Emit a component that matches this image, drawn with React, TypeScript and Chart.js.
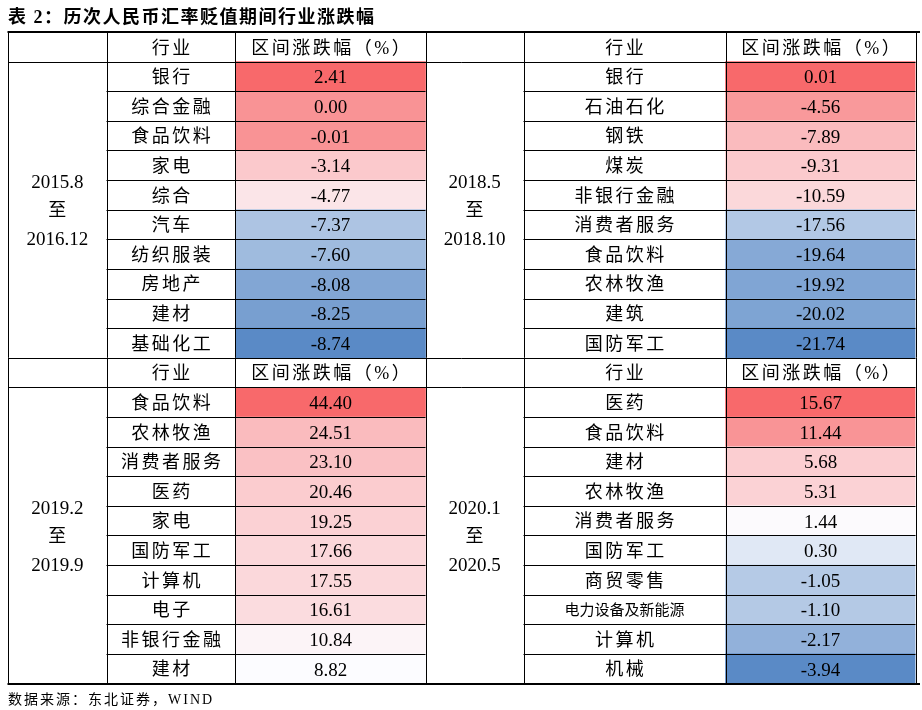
import React, { useEffect, useRef } from "react";
import { Chart, registerables } from "chart.js";

Chart.register(...registerables);

// ---------- data ----------
const titleText = "表 2：历次人民币汇率贬值期间行业涨跌幅";
const sourceText = "数据来源：东北证券，WIND";
const headerIndustry = "行业";
const headerChange = "区间涨跌幅（%）";

const periodA = ["2015.8", "至", "2016.12"];
const industriesA = ["银行", "综合金融", "食品饮料", "家电", "综合", "汽车", "纺织服装", "房地产", "建材", "基础化工"];
const valuesA = [2.41, 0.0, -0.01, -3.14, -4.77, -7.37, -7.6, -8.08, -8.25, -8.74];

const periodB = ["2018.5", "至", "2018.10"];
const industriesB = ["银行", "石油石化", "钢铁", "煤炭", "非银行金融", "消费者服务", "食品饮料", "农林牧渔", "建筑", "国防军工"];
const valuesB = [0.01, -4.56, -7.89, -9.31, -10.59, -17.56, -19.64, -19.92, -20.02, -21.74];

const periodC = ["2019.2", "至", "2019.9"];
const industriesC = ["食品饮料", "农林牧渔", "消费者服务", "医药", "家电", "国防军工", "计算机", "电子", "非银行金融", "建材"];
const valuesC = [44.4, 24.51, 23.1, 20.46, 19.25, 17.66, 17.55, 16.61, 10.84, 8.82];

const periodD = ["2020.1", "至", "2020.5"];
const industriesD = ["医药", "食品饮料", "建材", "农林牧渔", "消费者服务", "国防军工", "商贸零售", "电力设备及新能源", "计算机", "机械"];
const valuesD = [15.67, 11.44, 5.68, 5.31, 1.44, 0.3, -1.05, -1.1, -2.17, -3.94];

// ---------- layout / style ----------
const W = 922;
const H = 710;
const colEdges = [0, 98.5, 227.5, 417.5, 515.5, 717.5, 907.5];
const PAD = { left: 8, right: W - 8 - 907.5, top: 32, bottom: H - 683.5 };
const RED = [248, 105, 107];
const WHITE = [252, 252, 255];
const BLUE = [90, 138, 198];
const midA = -6.07;
const midB = -14.07;
const midC = 8.82;
const midD = 1.2;
const FONT = '"Liberation Serif", "Noto Sans CJK SC", serif';
const CJK_FONT = '"Liberation Serif", "Noto Sans CJK SC", sans-serif';
const TEXT_DY = 2;

function scaleColor(v: number, vals: number[], mid: number): string {
  const mx = Math.max(...vals);
  const mn = Math.min(...vals);
  let c: number[];
  if (v >= mid) {
    const t = mx === mid ? 0 : (v - mid) / (mx - mid);
    c = WHITE.map((w, i) => w + (RED[i] - w) * t);
  } else {
    const t = mn === mid ? 0 : (mid - v) / (mid - mn);
    c = WHITE.map((w, i) => w + (BLUE[i] - w) * t);
  }
  return `rgb(${c.map((x) => Math.round(x)).join(",")})`;
}

// rows: 0 header, 1..10 block top, 11 header, 12..21 block bottom
const rowKeys = Array.from({ length: 22 }, (_, i) => `r${i}`);

function cellData(top: number[], bottom: number[], c0: number, c1: number) {
  const out: (number[] | null)[] = [null];
  top.forEach(() => out.push([colEdges[c0], colEdges[c1]]));
  out.push(null);
  bottom.forEach(() => out.push([colEdges[c0], colEdges[c1]]));
  return out;
}
function cellColors(top: number[], midT: number, bottom: number[], midBt: number) {
  return [
    "rgba(0,0,0,0)",
    ...top.map((v) => scaleColor(v, top, midT)),
    "rgba(0,0,0,0)",
    ...bottom.map((v) => scaleColor(v, bottom, midBt)),
  ];
}

const tablePlugin = {
  id: "tableText",
  afterDatasetsDraw(chart: any) {
    const ctx: CanvasRenderingContext2D = chart.ctx;
    const xs = chart.scales.x;
    const ys = chart.scales.y;
    const rowH = (ys.bottom - ys.top) / 22;
    const yc = (i: number) => ys.getPixelForValue(i);
    const xp = (v: number) => xs.getPixelForValue(v);
    const colC = (c: number) => xp((colEdges[c] + colEdges[c + 1]) / 2);
    const crisp = (v: number) => Math.round(v) + 0.5;
    const top = ys.top;
    const bottom = ys.bottom;

    ctx.save();
    ctx.strokeStyle = "#000";
    ctx.lineWidth = 1;
    colEdges.forEach((e) => {
      const x = crisp(xp(e));
      ctx.beginPath();
      ctx.moveTo(x, top);
      ctx.lineTo(x, bottom);
      ctx.stroke();
    });
    for (let k = 1; k < 22; k++) {
      const y = crisp(yc(k) - rowH / 2);
      ctx.beginPath();
      if (k === 1 || k === 11 || k === 12) {
        ctx.moveTo(xp(colEdges[0]), y);
        ctx.lineTo(xp(colEdges[6]), y);
      } else {
        ctx.moveTo(xp(colEdges[1]), y);
        ctx.lineTo(xp(colEdges[3]), y);
        ctx.moveTo(xp(colEdges[4]), y);
        ctx.lineTo(xp(colEdges[6]), y);
      }
      ctx.stroke();
    }
    ctx.lineWidth = 2;
    ctx.beginPath();
    ctx.moveTo(xp(colEdges[0]) - 0.5, Math.round(top));
    ctx.lineTo(W - 2, Math.round(top));
    ctx.moveTo(xp(colEdges[0]) - 0.5, Math.round(bottom));
    ctx.lineTo(W - 2, Math.round(bottom));
    ctx.stroke();

    ctx.fillStyle = "#000";
    ctx.textBaseline = "middle";
    const drawText = (s: string, x: number, y: number, font: string, spacing: number, align: CanvasTextAlign = "center") => {
      ctx.font = font;
      (ctx as any).letterSpacing = `${spacing}px`;
      ctx.textAlign = align;
      ctx.fillText(s, align === "center" ? x + spacing / 2 : x, y + TEXT_DY);
    };
    const cjk = (s: string, x: number, y: number, compact = false) => {
      if (compact) drawText(s, x, y, `15px ${CJK_FONT}`, 0);
      else drawText(s, x, y, `18px ${CJK_FONT}`, 2.5);
    };
    const num = (v: number, x: number, y: number) => drawText(v.toFixed(2), x, y, `19px ${FONT}`, 0);

    [0, 11].forEach((r) => {
      cjk(headerIndustry, colC(1), yc(r));
      cjk(headerChange, colC(2), yc(r));
      cjk(headerIndustry, colC(4), yc(r));
      cjk(headerChange, colC(5), yc(r));
    });

    const blocks = [
      { period: periodA, ind: industriesA, vals: valuesA, r0: 1, c: 0 },
      { period: periodB, ind: industriesB, vals: valuesB, r0: 1, c: 3 },
      { period: periodC, ind: industriesC, vals: valuesC, r0: 12, c: 0 },
      { period: periodD, ind: industriesD, vals: valuesD, r0: 12, c: 3 },
    ];
    blocks.forEach((b) => {
      b.ind.forEach((s, i) => cjk(s, colC(b.c + 1), yc(b.r0 + i), s.length > 6));
      b.vals.forEach((v, i) => num(v, colC(b.c + 2), yc(b.r0 + i)));
      const cy = (yc(b.r0) + yc(b.r0 + 9)) / 2;
      const lh = 28.5;
      b.period.forEach((s, i) => {
        if (s === "至") drawText(s, colC(b.c), cy + (i - 1) * lh, `18px ${CJK_FONT}`, 0);
        else drawText(s, colC(b.c), cy + (i - 1) * lh, `19px ${FONT}`, 0);
      });
    });

    drawText(titleText, 8, 16, `bold 18px ${CJK_FONT}`, 1.5, "left");
    drawText(sourceText, 8, 698, `14px ${CJK_FONT}`, 2, "left");
    ctx.restore();
  },
};

export default function App() {
  const ref = useRef<HTMLCanvasElement | null>(null);
  useEffect(() => {
    if (!ref.current) return;
    const chart = new Chart(ref.current, {
      type: "bar",
      data: {
        labels: rowKeys,
        datasets: [
          {
            data: cellData(valuesA, valuesC, 2, 3) as any,
            backgroundColor: cellColors(valuesA, midA, valuesC, midC),
            borderWidth: 0,
            barPercentage: 1,
            categoryPercentage: 1,
            grouped: false,
          } as any,
          {
            data: cellData(valuesB, valuesD, 5, 6) as any,
            backgroundColor: cellColors(valuesB, midB, valuesD, midD),
            borderWidth: 0,
            barPercentage: 1,
            categoryPercentage: 1,
            grouped: false,
          } as any,
        ],
      },
      options: {
        indexAxis: "y",
        animation: false,
        responsive: false,
        layout: { padding: PAD },
        scales: {
          x: { type: "linear", min: 0, max: colEdges[6], display: false },
          y: { type: "category", display: false },
        },
        plugins: { legend: { display: false }, tooltip: { enabled: false }, title: { display: false } },
      },
      plugins: [tablePlugin],
    });
    return () => chart.destroy();
  }, []);
  return (
    <div style={{ position: "absolute", left: 0, top: 0, width: W, height: H, background: "#fff" }}>
      <canvas ref={ref} width={W} height={H} style={{ width: W, height: H, display: "block" }} />
    </div>
  );
}
